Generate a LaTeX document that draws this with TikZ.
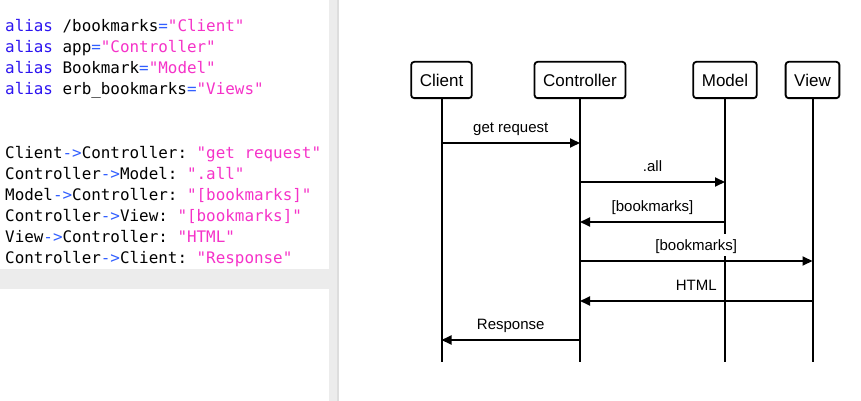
\documentclass[tikz,border=0pt]{standalone}
\usepackage{fontspec}
\setmainfont{Liberation Sans}
\setmonofont{DejaVu Sans Mono}
\usetikzlibrary{arrows.meta,positioning}
\definecolor{kwblue}{RGB}{44,20,240}
\definecolor{opblue}{RGB}{50,95,255}
\definecolor{strpink}{RGB}{245,50,200}
\definecolor{panelgray}{RGB}{236,236,236}
\definecolor{edgegray}{RGB}{221,221,221}
\newcommand{\codekw}[1]{\textcolor{kwblue}{#1}}
\newcommand{\codeop}[1]{\textcolor{opblue}{#1}}
\newcommand{\codestr}[1]{\textcolor{strpink}{#1}}

\begin{document}
\begin{tikzpicture}[x=1pt,y=-1pt]
\tikzset{ACTOR/.style={draw,rectangle,rounded corners=3pt,line width=1.8pt,minimum height=36.3pt,inner xsep=8.6pt,font=\fontsize{17}{20}\selectfont}}
\tikzset{LIFELINE/.style={draw,line width=2pt}}
\tikzset{MESSAGE/.style={draw,line width=1.8pt,-{Triangle[length=10pt,width=9pt]}}}
\tikzset{LABEL/.style={above=4pt,fill=white,inner sep=3pt,text height=13pt,text depth=3pt,font=\fontsize{15}{18}\selectfont}}
\tikzset{CODE/.style={anchor=base west,inner sep=0pt,font=\ttfamily\fontsize{15.9}{21}\selectfont}}

\useasboundingbox (0,0) rectangle (861,401);

% editor side
\fill[panelgray] (0,269) rectangle (329,289);
\fill[panelgray] (329,0) rectangle (339,401);
\fill[edgegray] (337,0) rectangle (339,401);

\node[CODE] (alias1) at (5,32) {\codekw{alias} /bookmarks\codeop{=}\codestr{"Client"}};
\node[CODE] (alias2) at (5,53) {\codekw{alias} app\codeop{=}\codestr{"Controller"}};
\node[CODE] (alias3) at (5,74) {\codekw{alias} Bookmark\codeop{=}\codestr{"Model"}};
\node[CODE] (alias4) at (5,95) {\codekw{alias} erb\_bookmarks\codeop{=}\codestr{"Views"}};

\node[CODE] (msg1) at (5,158) {Client\codeop{->}Controller: \codestr{"get request"}};
\node[CODE] (msg2) at (5,179) {Controller\codeop{->}Model: \codestr{".all"}};
\node[CODE] (msg3) at (5,200) {Model\codeop{->}Controller: \codestr{"[bookmarks]"}};
\node[CODE] (msg4) at (5,221) {Controller\codeop{->}View: \codestr{"[bookmarks]"}};
\node[CODE] (msg5) at (5,242) {View\codeop{->}Controller: \codestr{"HTML"}};
\node[CODE] (msg6) at (5,263) {Controller\codeop{->}Client: \codestr{"Response"}};

% sequence diagram
\node[ACTOR] (client) at (441.5,80) {Client};
\node[ACTOR] (controller) at (580,80) {Controller};
\node[ACTOR] (model) at (725,80) {Model};
\node[ACTOR] (view) at (812.5,80) {View};

\foreach \who in {client,controller,model,view} {
  \coordinate (\who end) at (\who |- 0,362);
  \path[LIFELINE] (\who.south) -- (\who end);
}

\foreach \from/\to/\y/\txt in {client/controller/143/{get request},
    controller/model/182/{.all},
    model/controller/222/{[bookmarks]},
    controller/view/261/{[bookmarks]},
    view/controller/301/{HTML},
    controller/client/340/{Response}}
  \path[MESSAGE] (\from |- 0,\y) -- node[LABEL] {\txt} (\to |- 0,\y);

\end{tikzpicture}
\end{document}
